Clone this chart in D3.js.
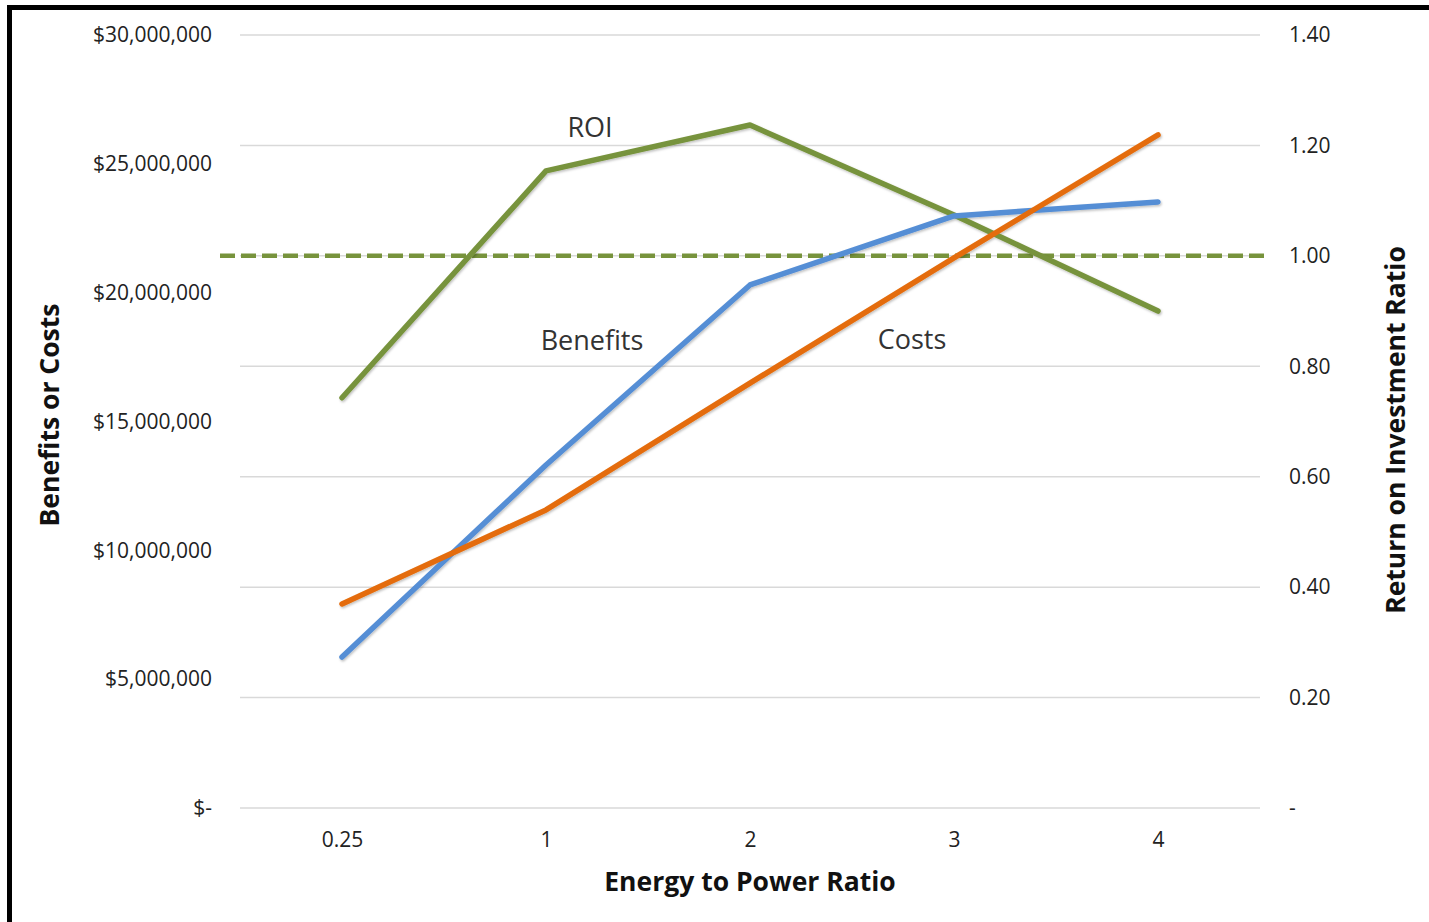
<!DOCTYPE html>
<html>
<head>
<meta charset="utf-8">
<script src="https://cdn.jsdelivr.net/npm/d3@7"></script>
<style>
  html, body { margin: 0; padding: 0; background: #fff; }
  svg { display: block; }
  text { font-family: "Open Sans", "Noto Sans", sans-serif; }
</style>
</head>
<body>
<svg id="chart" width="1429" height="922"></svg>
<script>
// Energy-to-power ratio scenarios
const ratios = ["0.25", "1", "2", "3", "4"];
// Dollar benefits and costs for each scenario
const benefits = [5860000, 13310000, 20300000, 22980000, 23520000];
const costs = [7920000, 11570000, 16490000, 21350000, 26120000];
// Return on investment (benefits / costs)
const roi = [0.743, 1.154, 1.237, 1.074, 0.900];
// Axis ticks
const leftTicks = [0, 5000000, 10000000, 15000000, 20000000, 25000000, 30000000];
const rightTicks = [0, 0.2, 0.4, 0.6, 0.8, 1.0, 1.2, 1.4];
const breakEven = 1.0;

const svg = d3.select("#chart");
const W = 1429, H = 922;
const plot = { left: 240, right: 1260, top: 35, bottom: 808 };
const tickFont = 21;

const x = d3.scalePoint().domain(ratios).range([plot.left, plot.right]).padding(0.5);
const yL = d3.scaleLinear().domain([0, 30000000]).range([plot.bottom, plot.top]);
const yR = d3.scaleLinear().domain([0, 1.4]).range([plot.bottom, plot.top]);

// Drop shadow for the series lines
const defs = svg.append("defs");
const f = defs.append("filter").attr("id", "shadow").attr("x", "-5%").attr("y", "-5%").attr("width", "110%").attr("height", "110%");
f.append("feDropShadow").attr("dx", 1).attr("dy", 1.5).attr("stdDeviation", 1.2).attr("flood-color", "#000").attr("flood-opacity", 0.25);

// Frame
svg.append("rect").attr("x", 9.5).attr("y", 7.5).attr("width", W + 20).attr("height", H + 20)
  .attr("fill", "none").attr("stroke", "#000").attr("stroke-width", 5);

// Horizontal gridlines follow the ratio axis
svg.append("g").selectAll("line").data(rightTicks).join("line")
  .attr("x1", plot.left).attr("x2", plot.right)
  .attr("y1", d => yR(d)).attr("y2", d => yR(d))
  .attr("stroke", "#d9d9d9").attr("stroke-width", 1.5);

// Left axis (dollars)
const fmtDollar = d => d === 0 ? "$-" : "$" + d3.format(",")(d);
const gL = svg.append("g").attr("transform", `translate(${plot.left},0)`)
  .call(d3.axisLeft(yL).tickValues(leftTicks).tickFormat(fmtDollar).tickSize(0).tickPadding(28));
gL.select(".domain").remove();
gL.selectAll("text").attr("font-size", tickFont).attr("fill", "#222").style("font-family", "'Open Sans', sans-serif");

// Right axis (ratio)
const fmtRatio = d => d === 0 ? "-" : d3.format(".2f")(d);
const gR = svg.append("g").attr("transform", `translate(${plot.right},0)`)
  .call(d3.axisRight(yR).tickValues(rightTicks).tickFormat(fmtRatio).tickSize(0).tickPadding(29));
gR.select(".domain").remove();
gR.selectAll("text").attr("font-size", tickFont).attr("fill", "#222").style("font-family", "'Open Sans', sans-serif");

// Bottom axis
const gB = svg.append("g").attr("transform", `translate(0,${plot.bottom})`)
  .call(d3.axisBottom(x).tickSize(0).tickPadding(24));
gB.select(".domain").remove();
gB.selectAll("text").attr("font-size", tickFont).attr("fill", "#222").style("font-family", "'Open Sans', sans-serif");

// Break-even reference line
svg.append("line")
  .attr("x1", 220).attr("x2", 1268)
  .attr("y1", yR(breakEven)).attr("y2", yR(breakEven))
  .attr("stroke", "#77933c").attr("stroke-width", 4.5).attr("stroke-dasharray", "15,6");

// Series lines
const lineL = d3.line().x((d, i) => x(ratios[i])).y(d => yL(d));
const lineR = d3.line().x((d, i) => x(ratios[i])).y(d => yR(d));

const series = [
  { values: roi, gen: lineR, color: "#77933c" },
  { values: benefits, gen: lineL, color: "#558ed5" },
  { values: costs, gen: lineL, color: "#e46c0a" }
];
svg.append("g").attr("filter", "url(#shadow)").selectAll("path").data(series).join("path")
  .attr("d", d => d.gen(d.values))
  .attr("fill", "none").attr("stroke", d => d.color).attr("stroke-width", 5.5)
  .attr("stroke-linecap", "round").attr("stroke-linejoin", "round");

// Series labels
const labels = [
  { text: "ROI", x: 590, y: 128 },
  { text: "Benefits", x: 592, y: 341 },
  { text: "Costs", x: 912, y: 340 }
];
svg.append("g").selectAll("text").data(labels).join("text")
  .attr("x", d => d.x).attr("y", d => d.y).attr("dy", "0.35em")
  .attr("text-anchor", "middle").attr("font-size", 27).attr("fill", "#333")
  .text(d => d.text);

// Axis titles
svg.append("text").attr("transform", "translate(50,415) rotate(-90)")
  .attr("text-anchor", "middle").attr("dy", "0.35em").attr("font-size", 26.5).attr("font-weight", "bold").attr("fill", "#111")
  .text("Benefits or Costs");
svg.append("text").attr("transform", "translate(1396,430) rotate(-90)")
  .attr("text-anchor", "middle").attr("dy", "0.35em").attr("font-size", 26.5).attr("font-weight", "bold").attr("fill", "#111")
  .text("Return on Investment Ratio");
svg.append("text").attr("x", 750).attr("y", 882).attr("dy", "0.35em")
  .attr("text-anchor", "middle").attr("font-size", 26.5).attr("font-weight", "bold").attr("fill", "#111")
  .text("Energy to Power Ratio");
</script>
</body>
</html>
